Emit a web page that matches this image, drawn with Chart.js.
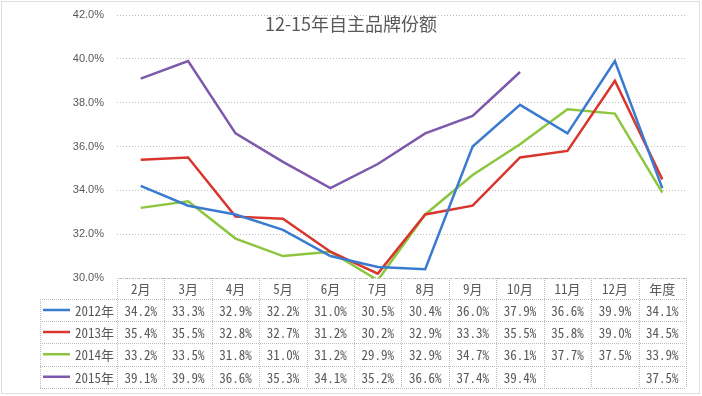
<!DOCTYPE html>
<html>
<head>
<meta charset="utf-8">
<script src="https://cdn.jsdelivr.net/npm/chart.js@4"></script>
<style>
  body { margin: 0; background: #fff; }
  #wrap { width: 702px; height: 396px; }
</style>
</head>
<body>
<div id="wrap"><canvas id="shareChart" width="702" height="396"></canvas></div>
<script>
// 12-15年自主品牌份额
const months = ['2月', '3月', '4月', '5月', '6月', '7月', '8月', '9月', '10月', '11月', '12月', '年度'];
const years = ['2012年', '2013年', '2014年', '2015年'];
const share2012 = [34.2, 33.3, 32.9, 32.2, 31.0, 30.5, 30.4, 36.0, 37.9, 36.6, 39.9, 34.1];
const share2013 = [35.4, 35.5, 32.8, 32.7, 31.2, 30.2, 32.9, 33.3, 35.5, 35.8, 39.0, 34.5];
const share2014 = [33.2, 33.5, 31.8, 31.0, 31.2, 29.9, 32.9, 34.7, 36.1, 37.7, 37.5, 33.9];
const share2015 = [39.1, 39.9, 36.6, 35.3, 34.1, 35.2, 36.6, 37.4, 39.4, null, null, 37.5];
const yTicks = [30, 32, 34, 36, 38, 40, 42];

const colors = ['#3a7bd0', '#d8352d', '#8cc63f', '#7d59ad'];
const series = [share2012, share2013, share2014, share2015];
const textColor = '#595959';
const lineGray = '#bcbcbc';
const tableFont = "13px 'Noto Sans Mono CJK SC', 'DejaVu Sans Mono', 'Noto Sans CJK SC', monospace";

// data table + title + frame drawn under the plot
const tablePlugin = {
    id: 'dataTable',
    afterDraw(chart) {
        const { ctx, chartArea, scales } = chart;
        const x = scales.x;
        const colW = x.getPixelForValue(1) - x.getPixelForValue(0);
        const left = x.getPixelForValue(0) - colW / 2;
        const right = chartArea.right;
        const legendLeft = 40;
        const top = chartArea.bottom;
        const rowTops = [top, top + 21, top + 43, top + 65, top + 87.5, top + 110];

        ctx.save();
        ctx.strokeStyle = lineGray;
        ctx.lineWidth = 1;
        ctx.setLineDash([1, 1]);

        // vertical lines
        for (let i = 0; i <= months.length; i++) {
            const px = Math.round(left + i * colW) + 0.5;
            ctx.beginPath();
            ctx.moveTo(px, top);
            ctx.lineTo(px, rowTops[5]);
            ctx.stroke();
        }
        ctx.beginPath();
        ctx.moveTo(legendLeft + 0.5, rowTops[1]);
        ctx.lineTo(legendLeft + 0.5, rowTops[5]);
        ctx.stroke();

        // horizontal lines
        rowTops.forEach((ry, k) => {
            const py = Math.round(ry) + 0.5;
            ctx.beginPath();
            ctx.moveTo(k === 0 ? left : legendLeft, py);
            ctx.lineTo(right, py);
            ctx.stroke();
        });

        // outer frame
        ctx.strokeStyle = '#bdbdbd';
        ctx.strokeRect(1.5, 1.5, 698, 392);
        ctx.setLineDash([]);

        // header
        ctx.fillStyle = textColor;
        ctx.font = tableFont;
        ctx.textAlign = 'center';
        ctx.textBaseline = 'middle';
        months.forEach((m, i) => {
            ctx.fillText(m, x.getPixelForValue(i), (rowTops[0] + rowTops[1]) / 2 + 1);
        });

        // rows
        series.forEach((vals, r) => {
            const cy = (rowTops[r + 1] + rowTops[r + 2]) / 2 + 1;
            vals.forEach((v, i) => {
                if (v === null) return;
                ctx.textAlign = 'center';
                ctx.fillText(v.toFixed(1) + '%', x.getPixelForValue(i), cy);
            });
            // legend key
            ctx.strokeStyle = colors[r];
            ctx.lineWidth = 2.5;
            ctx.beginPath();
            ctx.moveTo(43, cy - 1);
            ctx.lineTo(70, cy - 1);
            ctx.stroke();
            ctx.textAlign = 'right';
            ctx.fillText(years[r], left - 3, cy);
        });

        // title
        ctx.font = "18px 'Noto Sans CJK SC', 'Noto Sans', sans-serif";
        ctx.textAlign = 'center';
        ctx.fillText('12-15年自主品牌份额', 351, 24);
        ctx.restore();
    }
};

new Chart(document.getElementById('shareChart'), {
    type: 'line',
    data: {
        labels: months,
        datasets: series.map((vals, i) => ({
            label: years[i],
            data: vals,
            borderColor: colors[i],
            backgroundColor: colors[i],
            borderWidth: 2.5,
            pointRadius: 0,
            tension: 0,
            spanGaps: false
        }))
    },
    options: {
        responsive: false,
        animation: false,
        layout: { padding: { top: 15, right: 16, bottom: 118, left: 0 } },
        plugins: {
            legend: { display: false },
            tooltip: { enabled: false },
            title: { display: false }
        },
        scales: {
            x: { display: false, offset: true },
            y: {
                min: 30,
                max: 42,
                afterFit: s => { s.width = 117; s.paddingTop = 0; s.paddingBottom = 0; },
                afterBuildTicks: s => { s.ticks = yTicks.map(v => ({ value: v })); },
                ticks: {
                    padding: 13,
                    color: textColor,
                    font: { family: "'Liberation Sans Narrow', 'Liberation Sans', sans-serif", size: 11 },
                    callback: v => v.toFixed(1) + '%'
                },
                grid: { color: lineGray, drawTicks: false, lineWidth: 1 },
                border: { display: false, dash: [1, 2] }
            }
        }
    },
    plugins: [tablePlugin]
});
</script>
</body>
</html>
